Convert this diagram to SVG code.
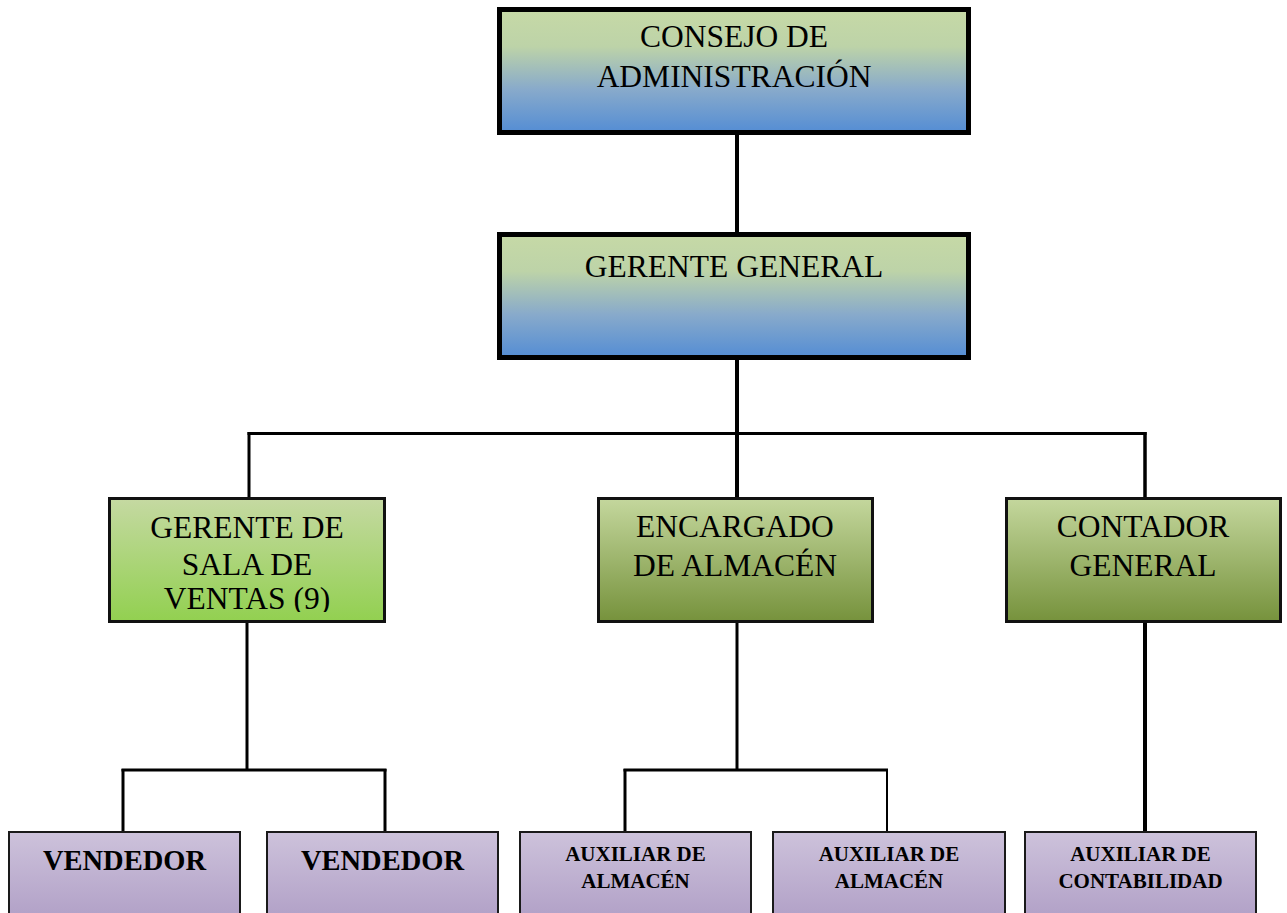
<svg xmlns="http://www.w3.org/2000/svg" width="1287" height="913" viewBox="0 0 1287 913">
<defs>
<linearGradient id="gBlue" x1="0" y1="0" x2="0" y2="1">
<stop offset="0" stop-color="#c6d9a6"/>
<stop offset="0.3" stop-color="#bdd3a8"/>
<stop offset="0.65" stop-color="#88aacb"/>
<stop offset="1" stop-color="#548dd4"/>
</linearGradient>
<linearGradient id="gLime" x1="0" y1="0" x2="0" y2="1">
<stop offset="0" stop-color="#c5d9a2"/>
<stop offset="1" stop-color="#92d050"/>
</linearGradient>
<linearGradient id="gOlive" x1="0" y1="0" x2="0" y2="1">
<stop offset="0" stop-color="#c4d79d"/>
<stop offset="1" stop-color="#76923c"/>
</linearGradient>
<linearGradient id="gPurple" x1="0" y1="0" x2="0" y2="1">
<stop offset="0" stop-color="#cdc2db"/>
<stop offset="1" stop-color="#b09fc6"/>
</linearGradient>
<clipPath id="clipSala"><rect x="108" y="497" width="278" height="115"/></clipPath>
</defs>
<style>
.top{stroke:#000;stroke-width:5;fill:url(#gBlue)}
.mid{stroke:#111;stroke-width:3}
.bot{stroke:#1a1a1a;stroke-width:2;fill:url(#gPurple)}
.t{font-family:"Liberation Serif","Times New Roman",serif;font-size:31.5px;fill:#000;text-anchor:middle}
.b{font-family:"Liberation Serif","Times New Roman",serif;font-weight:bold;fill:#000;text-anchor:middle}
.c{stroke:#000;fill:none}
</style>
<rect width="1287" height="913" fill="#fff"/>
<g id="connectors">
<line class="c" x1="737" y1="133" x2="737" y2="234" stroke-width="4"/>
<line class="c" x1="737" y1="358" x2="737" y2="498" stroke-width="4"/>
<line class="c" x1="247.5" y1="433.5" x2="1146.5" y2="433.5" stroke-width="3"/>
<line class="c" x1="249" y1="432" x2="249" y2="498" stroke-width="3"/>
<line class="c" x1="1145" y1="432" x2="1145" y2="498" stroke-width="3.5"/>
<line class="c" x1="247" y1="622" x2="247" y2="770" stroke-width="3"/>
<line class="c" x1="121.5" y1="770" x2="386.5" y2="770" stroke-width="3"/>
<line class="c" x1="123" y1="769" x2="123" y2="832" stroke-width="3"/>
<line class="c" x1="385" y1="769" x2="385" y2="832" stroke-width="3"/>
<line class="c" x1="737" y1="622" x2="737" y2="770" stroke-width="3"/>
<line class="c" x1="623.5" y1="770" x2="888" y2="770" stroke-width="3"/>
<line class="c" x1="625" y1="769" x2="625" y2="832" stroke-width="3"/>
<line class="c" x1="887" y1="769" x2="887" y2="832" stroke-width="2"/>
<line class="c" x1="1145" y1="622" x2="1145" y2="832" stroke-width="4"/>
</g>
<g id="consejo">
<rect class="top" x="499.5" y="9.5" width="469" height="123"/>
<text class="t" x="734" y="47">CONSEJO DE</text>
<text class="t" x="734" y="87">ADMINISTRACIÓN</text>
</g>
<g id="gerente-general">
<rect class="top" x="499.5" y="234.5" width="469" height="123"/>
<text class="t" x="734" y="277">GERENTE GENERAL</text>
</g>
<g id="gerente-sala">
<rect class="mid" x="109.5" y="498.5" width="275" height="123" fill="url(#gLime)"/>
<g clip-path="url(#clipSala)">
<text class="t" x="247" y="538">GERENTE DE</text>
<text class="t" x="247" y="575">SALA DE</text>
<text class="t" x="247" y="609">VENTAS (9)</text>
</g>
</g>
<g id="encargado-almacen">
<rect class="mid" x="598.5" y="498.5" width="274" height="123" fill="url(#gOlive)"/>
<text class="t" x="735" y="537">ENCARGADO</text>
<text class="t" x="735" y="576">DE ALMACÉN</text>
</g>
<g id="contador-general">
<rect class="mid" x="1006.5" y="498.5" width="274" height="123" fill="url(#gOlive)"/>
<text class="t" x="1143" y="537">CONTADOR</text>
<text class="t" x="1143" y="576">GENERAL</text>
</g>
<g id="vendedor-1">
<rect class="bot" x="9" y="832" width="231" height="90"/>
<text class="b" x="124.5" y="870" font-size="28.5">VENDEDOR</text>
</g>
<g id="vendedor-2">
<rect class="bot" x="267" y="832" width="231" height="90"/>
<text class="b" x="382.5" y="870" font-size="28.5">VENDEDOR</text>
</g>
<g id="auxiliar-almacen-1">
<rect class="bot" x="520" y="832" width="231" height="90"/>
<text class="b" x="635.5" y="861" font-size="21">AUXILIAR DE</text>
<text class="b" x="635.5" y="888" font-size="21">ALMACÉN</text>
</g>
<g id="auxiliar-almacen-2">
<rect class="bot" x="773" y="832" width="232" height="90"/>
<text class="b" x="889" y="861" font-size="21">AUXILIAR DE</text>
<text class="b" x="889" y="888" font-size="21">ALMACÉN</text>
</g>
<g id="auxiliar-contabilidad">
<rect class="bot" x="1025" y="832" width="231" height="90"/>
<text class="b" x="1140.5" y="861" font-size="21">AUXILIAR DE</text>
<text class="b" x="1140.5" y="888" font-size="21">CONTABILIDAD</text>
</g>
</svg>
